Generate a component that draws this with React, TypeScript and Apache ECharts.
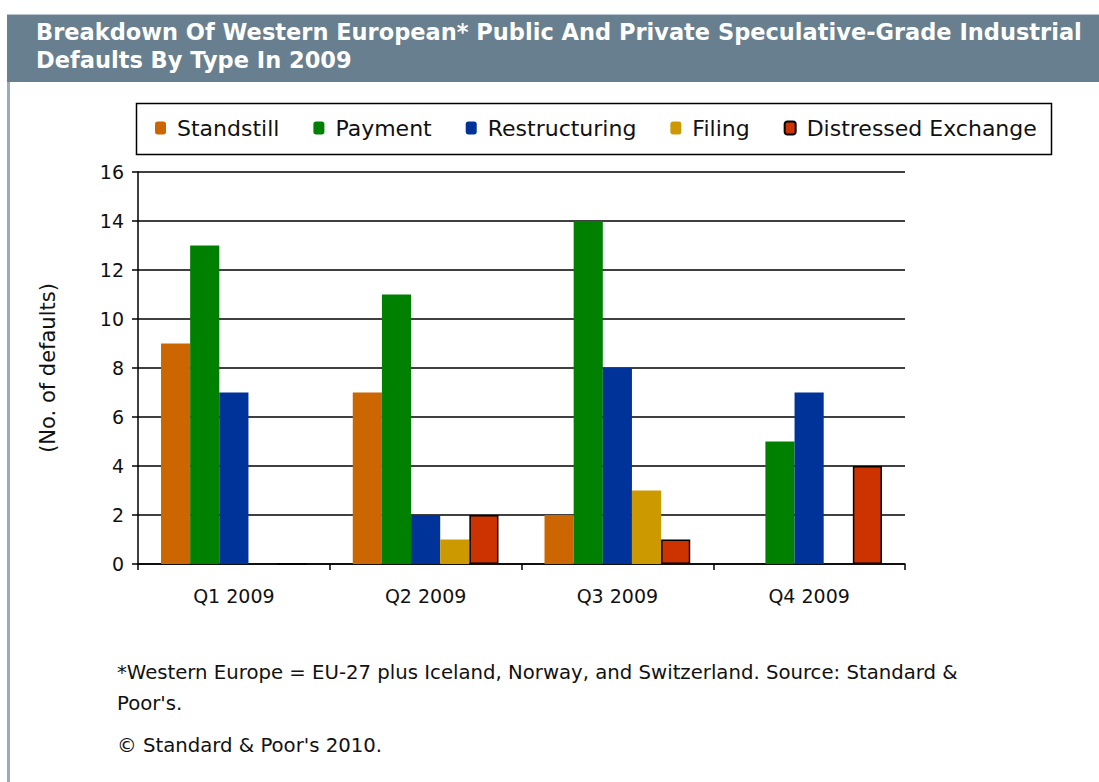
import React, { useEffect, useRef } from "react";
import * as echarts from "echarts";

const categories = ["Q1 2009", "Q2 2009", "Q3 2009", "Q4 2009"];
const standstill = [9, 7, 2, 0];
const payment = [13, 11, 14, 5];
const restructuring = [7, 2, 8, 7];
const filing = [0, 1, 3, 0];
const distressedExchange = [0, 2, 1, 4];
const yTicks = { min: 0, max: 16, interval: 2 };

const titleLines = [
  "Breakdown Of Western European* Public And Private Speculative-Grade Industrial",
  "Defaults By Type In 2009",
];
const footnoteLines = [
  "*Western Europe = EU-27 plus Iceland, Norway, and Switzerland. Source: Standard &",
  "Poor's.",
];
const copyright = "\u00A9 Standard & Poor's 2010.";

const FONT = "'DejaVu Sans', Verdana, sans-serif";

export default function App() {
  const ref = useRef<HTMLDivElement>(null);
  useEffect(() => {
    document.body.style.margin = "0";
    const chart = echarts.init(ref.current!, null, { renderer: "svg" });
    const mk = (name: string, data: number[], color: string, border?: string) => ({
      name,
      type: "bar",
      data,
      barGap: "0%",
      barCategoryGap: "24%",
      itemStyle: border
        ? { color, borderColor: border, borderWidth: 1.5 }
        : { color },
    });
    const titleFont = "bold 22.5px 'DejaVu Sans', Verdana, sans-serif";
    const footFont = `19.7px ${FONT}`;
    chart.setOption({
      animation: false,
      backgroundColor: "#ffffff",
      textStyle: { fontFamily: FONT },
      graphic: [
        { type: "rect", shape: { x: 7, y: 14, width: 1092, height: 68 }, style: { fill: "#687f8f" } },
        { type: "line", shape: { x1: 7, y1: 14.5, x2: 1099, y2: 14.5 }, style: { stroke: "#b9c5ce", lineWidth: 1 } },
        { type: "rect", shape: { x: 7, y: 82, width: 3, height: 700 }, style: { fill: "#9aacba" } },
        {
          type: "text", x: 36, y: 43,
          style: { text: titleLines[0], fill: "#ffffff", font: titleFont, textVerticalAlign: "bottom" },
        },
        {
          type: "text", x: 36, y: 71,
          style: { text: titleLines[1], fill: "#ffffff", font: titleFont, textVerticalAlign: "bottom" },
        },
        { type: "rect", shape: { x: 136.5, y: 103.5, width: 915, height: 51 }, style: { fill: "none", stroke: "#000000", lineWidth: 1.5 } },
        { type: "text", x: 117, y: 672, style: { text: footnoteLines[0], fill: "#111", font: footFont, textVerticalAlign: "middle" } },
        { type: "text", x: 117, y: 703, style: { text: footnoteLines[1], fill: "#111", font: footFont, textVerticalAlign: "middle" } },
        { type: "text", x: 117, y: 745, style: { text: copyright, fill: "#111", font: footFont, textVerticalAlign: "middle" } },
      ],
      legend: {
        left: 155,
        top: 117,
        padding: 0,
        itemWidth: 11,
        itemHeight: 13,
        itemGap: 34,
        textStyle: { fontFamily: FONT, fontSize: 22, color: "#111", padding: [0, 0, 0, 6] },
        data: ["Standstill", "Payment", "Restructuring", "Filing", "Distressed Exchange"],
      },
      grid: { left: 138, right: 194, top: 172, bottom: 218 },
      xAxis: {
        type: "category",
        data: categories,
        axisLine: { lineStyle: { color: "#000", width: 1.5 } },
        axisTick: { show: true, length: 6, lineStyle: { color: "#000", width: 1.5 } },
        axisLabel: { fontFamily: FONT, fontSize: 19, color: "#111", margin: 22 },
      },
      yAxis: {
        type: "value",
        min: yTicks.min,
        max: yTicks.max,
        interval: yTicks.interval,
        name: "(No. of defaults)",
        nameLocation: "middle",
        nameGap: 80,
        nameTextStyle: { fontFamily: FONT, fontSize: 21, color: "#111" },
        axisLine: { show: true, lineStyle: { color: "#000", width: 1.5 } },
        axisTick: { show: true, length: 6, lineStyle: { color: "#000", width: 1.5 } },
        axisLabel: { fontFamily: FONT, fontSize: 19, color: "#111", margin: 14 },
        splitLine: { lineStyle: { color: "#000", width: 1.5 } },
      },
      series: [
        mk("Standstill", standstill, "#cc6600"),
        mk("Payment", payment, "#008000"),
        mk("Restructuring", restructuring, "#003399"),
        mk("Filing", filing, "#cc9900"),
        mk("Distressed Exchange", distressedExchange, "#cc3300", "#000000"),
      ],
    });
    return () => chart.dispose();
  }, []);
  return <div ref={ref} style={{ width: 1099, height: 782 }} />;
}
